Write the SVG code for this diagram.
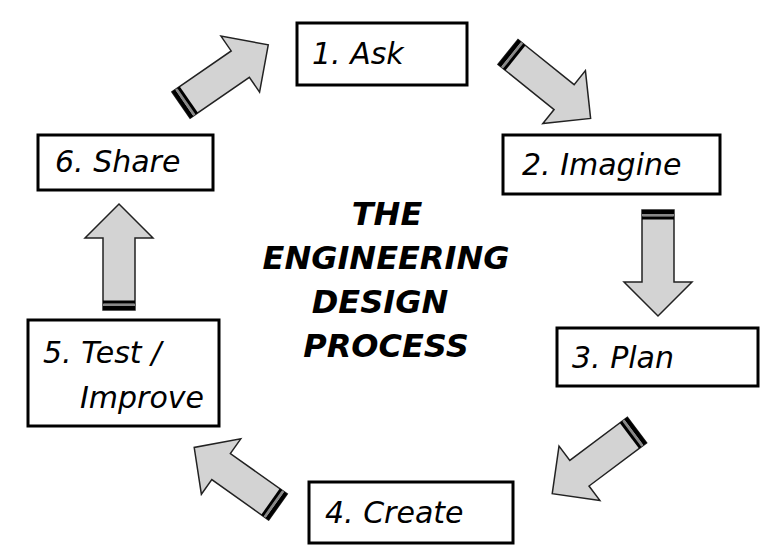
<svg xmlns="http://www.w3.org/2000/svg" xmlns:xlink="http://www.w3.org/1999/xlink" width="776" height="560" viewBox="0 0 776 560">
<style>
.box{fill:#fff;stroke:#000;stroke-width:3}
.lbl{font-family:"DejaVu Sans",sans-serif;font-style:oblique;font-size:30px;fill:#000}
.title{font-family:"DejaVu Sans",sans-serif;font-style:oblique;font-weight:bold;font-size:32px;fill:#000;text-anchor:middle}
.arr{fill:#d3d3d3;stroke:#222;stroke-width:1.5;stroke-linejoin:miter}
</style>
<defs>
<g id="arrow">
<polygon class="arr" points="0,-16 72,-16 72,-34 106,0 72,34 72,16 0,16"/>
<rect x="0" y="-16" width="4" height="32" fill="#000"/>
<rect x="4" y="-16" width="2.5" height="32" fill="#888"/>
<rect x="6.5" y="-16" width="3" height="32" fill="#000"/>
</g>
</defs>
<rect width="776" height="560" fill="#fff"/>
<g id="connectors">
<use xlink:href="#arrow" transform="translate(181,105) rotate(-34.6)"/>
<use xlink:href="#arrow" transform="translate(508,52) rotate(38.8)"/>
<use xlink:href="#arrow" transform="translate(658,210) rotate(90)"/>
<use xlink:href="#arrow" transform="translate(637,430) rotate(143.1)"/>
<use xlink:href="#arrow" transform="translate(278,507) rotate(-144.6) scale(0.97,1)"/>
<use xlink:href="#arrow" transform="translate(119,310) rotate(-90)"/>
</g>
<g id="n1"><rect class="box" x="297" y="23" width="170" height="62"/><text class="lbl" x="312" y="64">1. Ask</text></g>
<g id="n2"><rect class="box" x="503" y="135" width="217" height="59"/><text class="lbl" x="522" y="175">2. Imagine</text></g>
<g id="n3"><rect class="box" x="557" y="328" width="201" height="58"/><text class="lbl" x="572" y="368">3. Plan</text></g>
<g id="n4"><rect class="box" x="309" y="482" width="204" height="61"/><text class="lbl" x="325" y="523">4. Create</text></g>
<g id="n5"><rect class="box" x="28" y="320" width="191" height="106"/><text class="lbl" x="43" y="363">5. Test /</text><text class="lbl" x="80" y="408">Improve</text></g>
<g id="n6"><rect class="box" x="38" y="135" width="175" height="55"/><text class="lbl" x="55" y="172">6. Share</text></g>
<g id="title">
<text class="title" x="387" y="225">THE</text>
<text class="title" x="386" y="269">ENGINEERING</text>
<text class="title" x="380" y="313">DESIGN</text>
<text class="title" x="386" y="357">PROCESS</text>
</g>
</svg>
